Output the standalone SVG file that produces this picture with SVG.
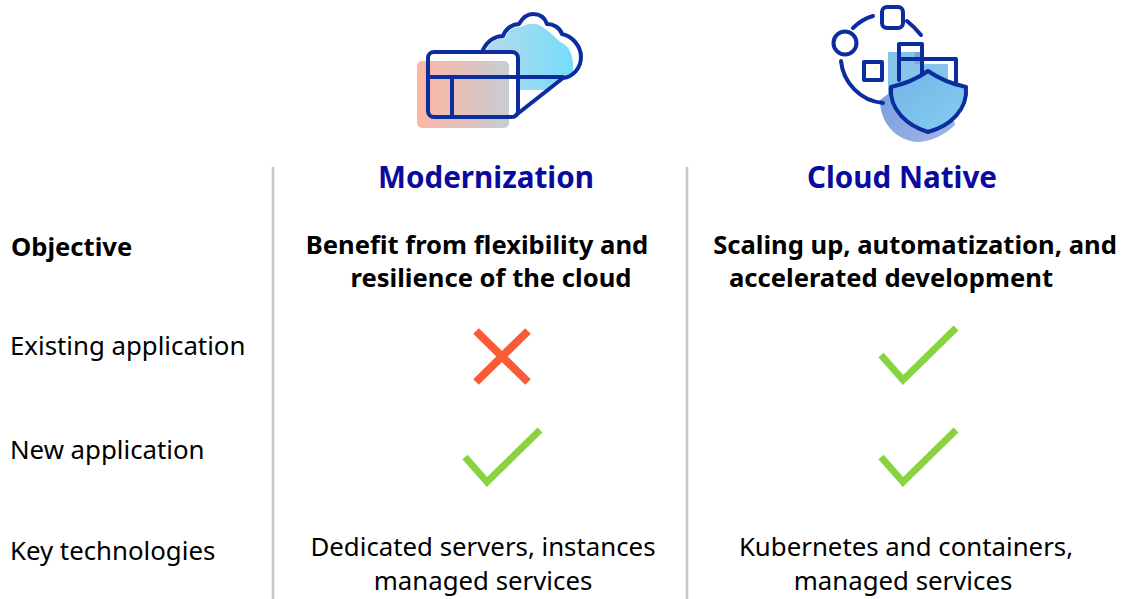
<svg xmlns="http://www.w3.org/2000/svg" width="1122" height="599" viewBox="0 0 1122 599">
<defs><linearGradient id="g1" x1="0" y1="0" x2="1" y2="0"><stop offset="0" stop-color="#fdb6a2"/><stop offset="1" stop-color="#c8ccd2"/></linearGradient>
<linearGradient id="g2" x1="0" y1="0" x2="1" y2="0"><stop offset="0" stop-color="#b5dbea"/><stop offset="1" stop-color="#76dcfc"/></linearGradient>
<linearGradient id="g3" x1="0" y1="0" x2="1" y2="1"><stop offset="0" stop-color="#6a9bdc"/><stop offset="1" stop-color="#a3b5e4"/></linearGradient>
<linearGradient id="g4" x1="0" y1="0" x2="1" y2="1"><stop offset="0" stop-color="#74b4e6"/><stop offset="1" stop-color="#84cdf2"/></linearGradient></defs>
<style>
text{font-family:"Noto Sans","Open Sans",sans-serif;fill:#000;font-size:25.8px}
.c{text-anchor:middle}.b{font-weight:700;font-size:25.6px}
.h{font-size:29.6px;font-weight:700;fill:#0a0a9e;text-anchor:middle}
.i{fill:none;stroke:#0b2da0;stroke-width:4;stroke-linejoin:round;stroke-linecap:round}
.ok{fill:none;stroke:#88d43f;stroke-width:7}
.no{fill:none;stroke:#fb5a36;stroke-width:8}
.sep{stroke:#c8c8c8;stroke-width:2.5}
</style>
<g id="separators"><line class="sep" x1="273" y1="167" x2="273" y2="599"/><line class="sep" x1="687" y1="167" x2="687" y2="599"/></g>
<g id="icon-modernization">
<path d="M486 50C490 42 497 38 505 38C508 30 515 26 521 27C526 24 530 23 536 24C545 27 552 34 560 42C570 46 574 56 573 72L546 90L518 90L518 52Z" fill="url(#g2)"/>
<rect x="417" y="61" width="92" height="67" rx="5" fill="url(#g1)"/>
<path class="i" d="M483 50C487 41 495 36 503 36C506 28 513 24 519 24C523 17 528 14 533 14C540 14 545 18 547 24C554 24 560 28 562 34C572 36 581 46 581 57C581 68 573 77 563 78L516 115"/>
<rect class="i" x="428" y="52" width="90" height="65" rx="6"/>
<path class="i" d="M428 77H563M452 77V117"/>
</g>
<g id="icon-cloud-native">
<path d="M888 52H920V67H948V88L955 125C945 135 930 142 917 142C895 140 880 122 880 100L888 94Z" fill="url(#g3)"/>
<path d="M891 88L928 71L966 88C966 108 950 124 928 132C905 124 891 108 891 88Z" fill="url(#g4)"/>
<path d="M888 52H915V64H948V85L928 71L891 88H888Z" fill="#86c4ec"/>
<circle class="i" cx="845" cy="43" r="11.5"/>
<rect class="i" x="882" y="7" width="21" height="21" rx="5"/>
<rect class="i" x="864" y="62" width="18" height="18"/>
<path class="i" d="M899 80V44H922V74M899 59H956V82M853 28C859 22 866 18 873 16M907 21C912 25 917 30 921 35M841 61C843 82 860 101 883 103"/>
<path class="i" d="M891 87C905 84 918 78 928 71C938 78 952 84 966 87C968 110 950 126 928 132C908 126 889 110 891 87Z"/>
</g>
<g id="header-modernization"><text class="h" x="486" y="188">Modernization</text></g>
<g id="header-cloud-native"><text class="h" x="902" y="188">Cloud Native</text></g>
<g id="row-labels">
<text class="b" x="11" y="256">Objective</text>
<text x="10" y="355">Existing application</text>
<text x="10" y="459">New application</text>
<text x="10" y="560">Key technologies</text>
</g>
<g id="objective-modernization">
<text class="c b" x="477" y="254">Benefit from flexibility and</text>
<text class="c b" x="491" y="287">resilience of the cloud</text>
</g>
<g id="objective-cloud-native">
<text class="c b" x="915" y="254">Scaling up, automatization, and</text>
<text class="c b" x="891" y="287">accelerated development</text>
</g>
<g id="marks">
<path class="no" d="M476 331L528 382M528 331L476 382"/>
<path class="ok" d="M881 355L903 380L956 328"/>
<path class="ok" d="M465 457L487 482L540 430"/>
<path class="ok" d="M881 457L903 482L956 430"/>
</g>
<g id="tech-modernization"><text class="c" x="483" y="556">Dedicated servers, instances</text><text class="c" x="483" y="590">managed services</text></g>
<g id="tech-cloud-native"><text class="c" x="906" y="556">Kubernetes and containers,</text><text class="c" x="903" y="590">managed services</text></g>
</svg>
